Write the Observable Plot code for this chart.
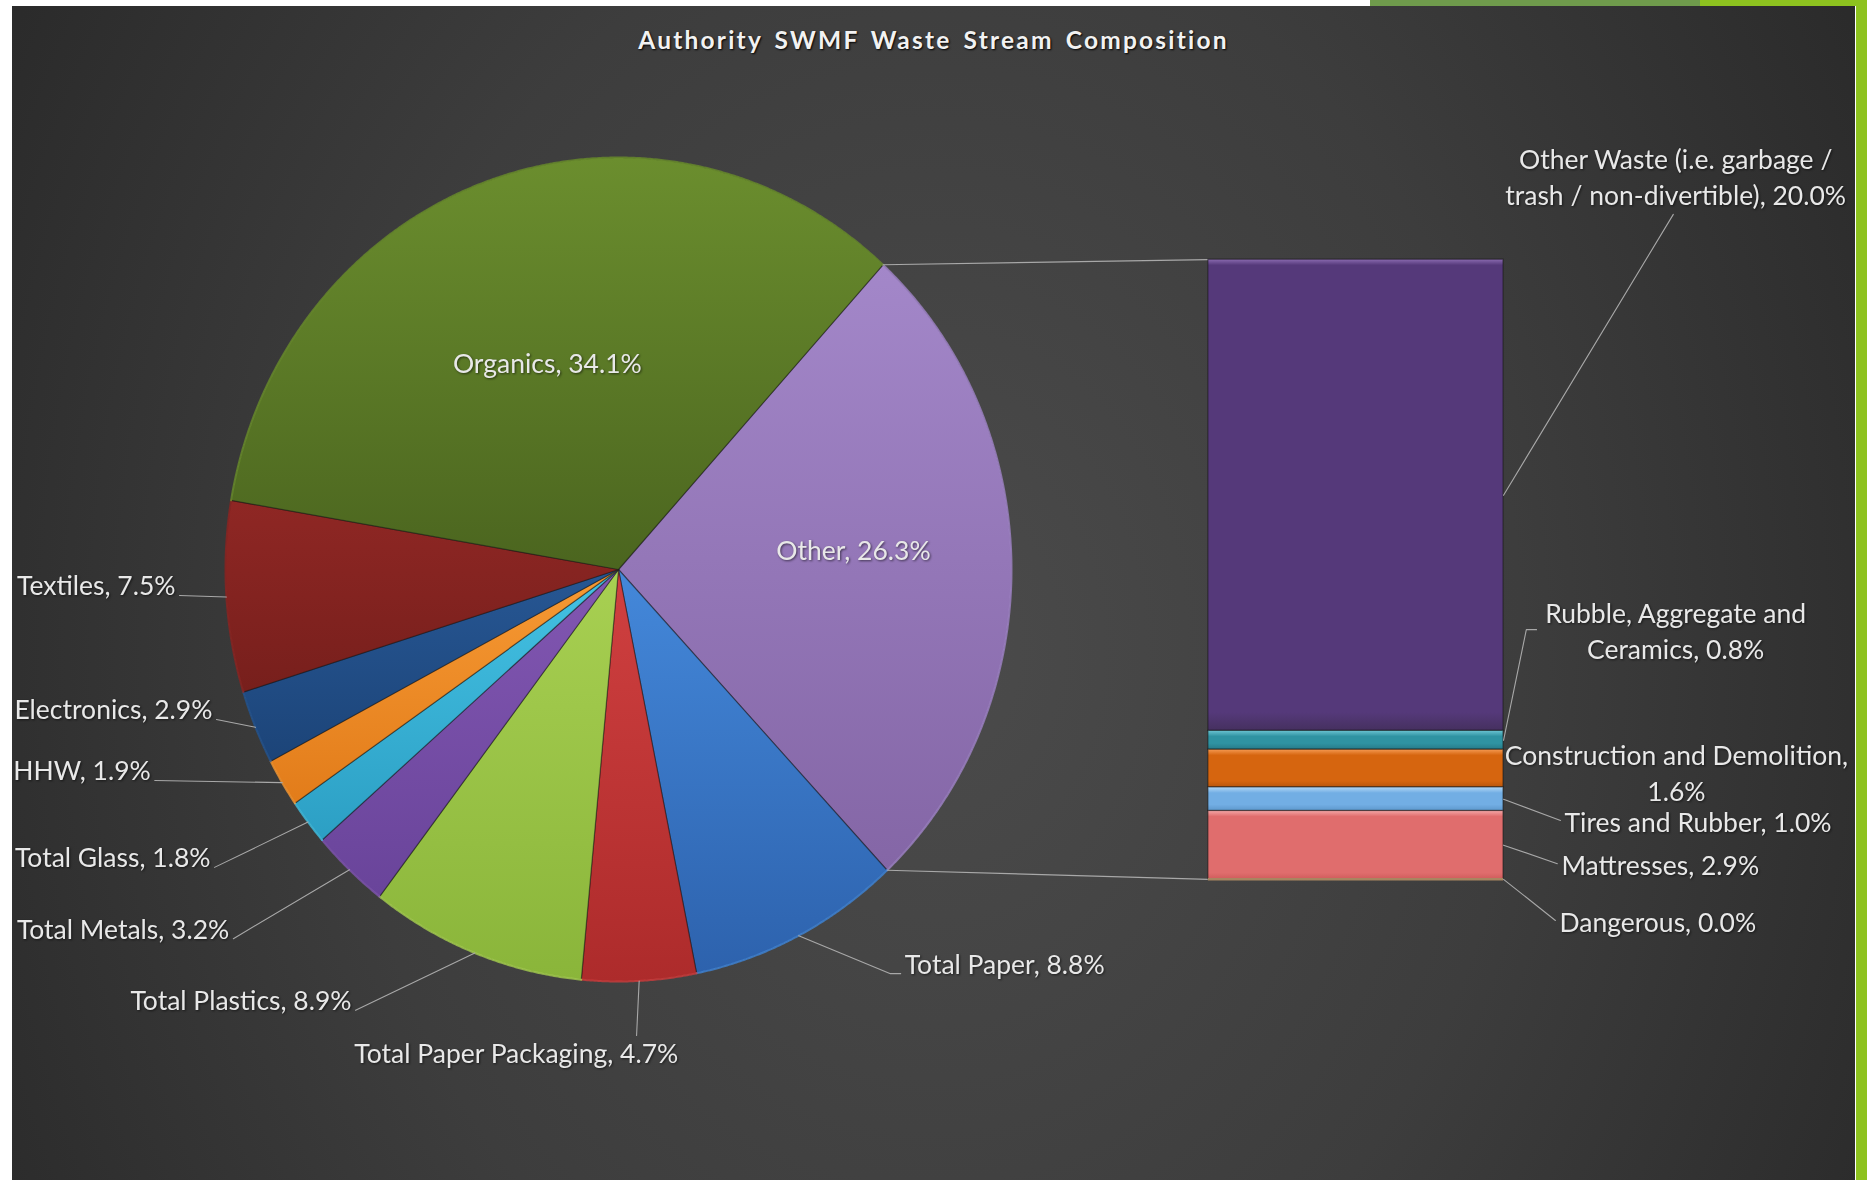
<!DOCTYPE html>
<html><head><meta charset="utf-8">
<script src="https://cdn.jsdelivr.net/npm/d3@7"></script>
<script src="https://cdn.jsdelivr.net/npm/@observablehq/plot@0.6"></script>
<style>
html,body{margin:0;padding:0;background:#fff;}
#wrap{position:relative;width:1867px;height:1180px;overflow:hidden;background:#fff;font-family:Lato,"Open Sans",sans-serif;}
#panel{position:absolute;left:12px;top:6px;width:1843px;height:1174px;background:radial-gradient(ellipse 58% 115% at 50% 55%, #4b4b4b 0%, #3d3d3d 55%, #2a2a2a 100%);}
#g1{position:absolute;left:1370px;top:0;width:330px;height:6px;background:#6f9b4c;}
#g2{position:absolute;left:1700px;top:0;width:167px;height:6px;background:#8dc21f;}
#g3{position:absolute;left:1856px;top:0;width:11px;height:1180px;background:#8dc21f;}
#title{position:absolute;left:12px;top:25px;width:1843px;text-align:center;color:#f2f2f2;font-weight:700;font-size:24.5px;letter-spacing:2.2px;word-spacing:4px;text-shadow:1px 1px 2px #000;}
#chart{position:absolute;left:0;top:70px;}
#chart text{filter:drop-shadow(1px 1px 1px rgba(0,0,0,0.55));}
</style></head><body>
<div id="wrap"><div id="panel"></div><div id="g1"></div><div id="g2"></div><div id="g3"></div>
<div id="title">Authority SWMF Waste Stream Composition</div>
<div id="chart"></div></div>
<script>
// ---- data ----
const pieCategories = ["Other","Total Paper","Total Paper Packaging","Total Plastics","Total Metals","Total Glass","HHW","Electronics","Textiles","Organics"];
const pieValues = [26.3, 8.8, 4.7, 8.9, 3.2, 1.8, 1.9, 2.9, 7.5, 34.1];
const barCategories = ["Other Waste (i.e. garbage / trash / non-divertible)","Rubble, Aggregate and Ceramics","Construction and Demolition","Tires and Rubber","Mattresses","Dangerous"];
const barValues = [20.0, 0.8, 1.6, 1.0, 2.9, 0.0];

// ---- styles ----
const pieColors = {
  "Other": ["#a387c9", "#8466a6"],
  "Total Paper": ["#4488da", "#2d62ad"],
  "Total Paper Packaging": ["#d04040", "#ad2b2b"],
  "Total Plastics": ["#a8d052", "#8ab53a"],
  "Total Metals": ["#8257b2", "#69449a"],
  "Total Glass": ["#44c2e4", "#2c9fc4"],
  "HHW": ["#f79a34", "#e27c1a"],
  "Electronics": ["#275794", "#1c4478"],
  "Textiles": ["#8f2724", "#771f1c"],
  "Organics": ["#6b8e2e", "#4b651f"]
};
const barColors = {
  "Other Waste (i.e. garbage / trash / non-divertible)": ["#8a6ab0", "#55397a", "#45305f"],
  "Rubble, Aggregate and Ceramics": ["#6cc4d2", "#2f93a2", "#267a88"],
  "Construction and Demolition": ["#f59a52", "#d6650f", "#b9560c"],
  "Tires and Rubber": ["#b4d8f6", "#72aee4", "#5e98cc"],
  "Mattresses": ["#f4a8a8", "#e06d6d", "#d05c5c"],
  "Dangerous": ["#c8a57a", "#a88560", "#8e6f4f"]
};

// ---- layout (pie-radius units) ----
const W = 1867, H = 1110, TOP = 70;
const CX = 618, CY = 569 - TOP, RX = 393, RY = 412;
const START = 42.3 * Math.PI / 180;
const BAR_X1 = 1.501, BAR_X2 = 2.252, BAR_TOP = 0.752, BAR_BOT = -0.752;
const FONT = 26.5, LEADER = "#a8a8a8", TEXT = "#e8e8e8";

const labelLayout = {
  "Organics": {tx:-0.181, ty:0.505, anchor:"middle", line:"middle"},
  "Other": {tx:0.598, ty:0.051, anchor:"middle", line:"middle"},
  "Textiles": {leader:[[-1.117,-0.063]], anchor:"end", line:"bottom", dx:-4},
  "Electronics": {leader:[[-1.023,-0.364]], anchor:"end", line:"bottom", dx:-4},
  "HHW": {leader:[[-1.180,-0.512]], anchor:"end", line:"bottom", dx:-4},
  "Total Glass": {leader:[[-1.028,-0.723]], anchor:"end", line:"bottom", dx:-4},
  "Total Metals": {leader:[[-0.980,-0.896]], anchor:"end", line:"bottom", dx:-4},
  "Total Plastics": {leader:[[-0.669,-1.070]], anchor:"end", line:"bottom", dx:-4},
  "Total Paper Packaging": {leader:[[0.046,-1.131]], tx:-0.260, ty:-1.136, anchor:"middle", line:"top"},
  "Total Paper": {leader:[[0.692,-0.981],[0.718,-0.981]], anchor:"start", line:"bottom", dx:4},
  "Other Waste (i.e. garbage / trash / non-divertible)": {leader:[[2.684,0.862]], tx:2.690, ty:0.956, anchor:"middle", line:"middle", breakAt:"garbage /"},
  "Rubble, Aggregate and Ceramics": {leader:[[2.310,-0.146],[2.336,-0.146]], tx:2.690, ty:-0.146, anchor:"middle", line:"middle", breakAt:"Aggregate and"},
  "Construction and Demolition": {tx:2.692, ty:-0.491, anchor:"middle", line:"middle", breakAt:"Demolition,"},
  "Tires and Rubber": {leader:[[2.397,-0.609]], anchor:"start", line:"middle", dx:4},
  "Mattresses": {leader:[[2.389,-0.714]], anchor:"start", line:"middle", dx:4},
  "Dangerous": {leader:[[2.384,-0.852]], anchor:"start", line:"middle", dx:4}
};

// ---- derived geometry ----
const pieData = pieCategories.map((name, i) => ({name, value: pieValues[i]}));
const arcs = d3.pie().sort(null).value(d => d.value).startAngle(START).endAngle(START + 2 * Math.PI)(pieData);
const gid = s => "g" + s.replace(/[^A-Za-z]/g, "");
const slicePts = [];
for (const a of arcs) {
  const n = Math.max(4, Math.ceil((a.endAngle - a.startAngle) / 0.005));
  slicePts.push({name: a.data.name, x: 0, y: 0});
  for (let k = 0; k <= n; k++) {
    const t = a.startAngle + (a.endAngle - a.startAngle) * k / n;
    slicePts.push({name: a.data.name, x: Math.sin(t), y: Math.cos(t)});
  }
  slicePts.push({name: a.data.name, x: 0, y: 0});
}
slicePts.forEach(p => { p.fill = `url(#${gid(p.name)})`; p.stroke = pieColors[p.name][0]; });

const barTotal = d3.sum(barValues);
const vScale = d3.scaleLinear().domain([0, barTotal]).range([BAR_TOP, BAR_BOT]);
let cum = 0;
const barData = barCategories.map((name, i) => {
  const d = {name, value: barValues[i], v1: vScale(cum), v2: vScale(cum + barValues[i])};
  cum += barValues[i];
  d.mid = (d.v1 + d.v2) / 2;
  d.fill = `url(#${gid(name)})`;
  return d;
});

const otherArc = arcs[0];
const connectors = [
  {x1: Math.sin(otherArc.startAngle), y1: Math.cos(otherArc.startAngle), x2: BAR_X1, y2: BAR_TOP},
  {x1: Math.sin(otherArc.endAngle), y1: Math.cos(otherArc.endAngle), x2: BAR_X1, y2: BAR_BOT}
];

// labels + leaders
const labelRows = [];
const leaderPts = [];
function addLabel(name, value, sx, sy) {
  const L = labelLayout[name];
  let text = `${name}, ${value.toFixed(1)}%`;
  if (L.breakAt) { const k = text.indexOf(L.breakAt) + L.breakAt.length; text = text.slice(0, k) + "\n" + text.slice(k).trim(); }
  let tx = L.tx, ty = L.ty;
  if (L.leader) {
    leaderPts.push({id: name, x: sx, y: sy});
    for (const [x, y] of L.leader) leaderPts.push({id: name, x, y});
    const last = L.leader[L.leader.length - 1];
    if (tx === undefined) { tx = last[0]; ty = last[1]; }
  }
  labelRows.push({name, text, x: tx, y: ty, anchor: L.anchor, line: L.line, dx: L.dx || 0});
}
for (const a of arcs) {
  const m = (a.startAngle + a.endAngle) / 2;
  addLabel(a.data.name, a.data.value, Math.sin(m), Math.cos(m));
}
for (const d of barData) addLabel(d.name, d.value, BAR_X2, d.mid);

// gradient defs as a render mark (bar highlight thickness in pixels via the y scale)
function defsMark(index, scales) {
  const ns = "http://www.w3.org/2000/svg";
  const defs = document.createElementNS(ns, "defs");
  const mk = (id, stops) => {
    const g = document.createElementNS(ns, "linearGradient");
    g.setAttribute("id", id); g.setAttribute("x1", "0"); g.setAttribute("y1", "0"); g.setAttribute("x2", "0"); g.setAttribute("y2", "1");
    for (const [o, c] of stops) { const s = document.createElementNS(ns, "stop"); s.setAttribute("offset", o); s.setAttribute("stop-color", c); g.appendChild(s); }
    defs.appendChild(g);
  };
  for (const [k, [c0, c1]] of Object.entries(pieColors)) mk(gid(k), [[0, c0], [1, c1]]);
  for (const d of barData) {
    const [c0, c1, c2] = barColors[d.name];
    const h = Math.max(1, Math.abs(scales.y(d.v2) - scales.y(d.v1)));
    const f = Math.min(0.35, 6 / h);
    if (h > 100) mk(gid(d.name), [[0, c0], [f, c1], [1 - 3 * f, c1], [1, c2]]);
    else mk(gid(d.name), [[0, c0], [f, c1], [Math.max(f, 1 - f), c1], [1, c2]]);
  }
  return defs;
}

const textMarks = labelRows.map(r => Plot.text([r], {
  x: "x", y: "y", text: "text", textAnchor: r.anchor, lineAnchor: r.line, dx: r.dx,
  fill: TEXT, fontSize: FONT, fontFamily: "Lato, 'Open Sans', sans-serif", lineHeight: 1.36
}));

const chart = Plot.plot({
  width: W, height: H, margin: 0,
  x: {domain: [-1, 1], range: [CX - RX, CX + RX], axis: null},
  y: {domain: [-1, 1], range: [CY + RY, CY - RY], axis: null},
  color: {type: "identity"},
  style: {background: "transparent", overflow: "visible"},
  marks: [
    defsMark,
    Plot.line(slicePts, {x: "x", y: "y", z: "name", fill: "fill", stroke: "rgba(20,20,20,0.45)", strokeWidth: 1.2, curve: "linear"}),
    Plot.line(slicePts.filter(p => p.x !== 0 || p.y !== 0), {x: "x", y: "y", z: "name", stroke: "stroke", strokeWidth: 2, strokeOpacity: 0.8, curve: "linear"}),
    Plot.link(connectors, {x1: "x1", y1: "y1", x2: "x2", y2: "y2", stroke: LEADER, strokeWidth: 1.2}),
    Plot.rect(barData.filter(d => d.value > 0), {x1: () => BAR_X1, x2: () => BAR_X2, y1: "v1", y2: "v2", fill: "fill", stroke: "rgba(20,20,20,0.55)", strokeWidth: 1.2}),
    Plot.ruleY(barData.filter(d => d.value === 0), {y: "v1", x1: () => BAR_X1, x2: () => BAR_X2, stroke: barColors["Dangerous"][1], strokeWidth: 2.5}),
    Plot.line(leaderPts, {x: "x", y: "y", z: "id", stroke: LEADER, strokeWidth: 1.1, curve: "linear"}),
    ...textMarks
  ]
});
document.getElementById("chart").appendChild(chart);
</script>
</body></html>
